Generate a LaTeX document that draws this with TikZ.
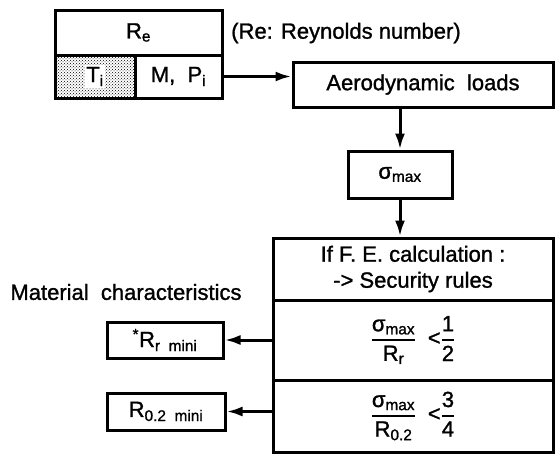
\documentclass[tikz,border=0pt]{standalone}
\usepackage{amsmath}
\usepackage{fontspec}
\setmainfont{Liberation Sans}[FakeBold=1.2]
\usetikzlibrary{arrows.meta,patterns}
\newcommand{\sig}{σ\textsubscript{max}}
\newcommand{\tfr}[2]{\genfrac{}{}{1.6pt}{0}{\text{#1}}{\text{#2}}}
\begin{document}
\begin{tikzpicture}[x=1pt,y=-1pt,
  every node/.style={font=\fontsize{22}{26}\selectfont},
  box/.style={draw,line width=3pt,rectangle,inner sep=0pt,anchor=center},
  conn/.style={line width=3pt,-{Latex[length=16pt,width=10pt]}},
  lbl/.style={inner sep=0pt}]
\useasboundingbox (0,0) rectangle (556,455);
% Re block
\node[box,minimum width=167pt,minimum height=45pt] (re) at (138.5,32.5) {R\textsubscript{e}};
\node[box,minimum width=80pt,minimum height=43pt,pattern=crosshatch dots,pattern color=black] (ti) at (95,76.5) {};
\node[lbl,fill=white,inner sep=1.5pt] (tilbl) at (ti.center) {T\textsubscript{i}};
\node[box,minimum width=87pt,minimum height=43pt] (mp) at (178.5,76.5) {M,\ \ P\textsubscript{i}};
\node[lbl] (reyn) at (346,33) {(Re: Reynolds number)};
% Aerodynamic loads
\node[box,minimum width=260pt,minimum height=45pt] (aero) at (423,84.5) {Aerodynamic\ \ loads};
% sigma max
\node[box,minimum width=104pt,minimum height=47pt] (sig) at (400,174.5) {\sig};
% big box
\node[box,minimum width=280pt,minimum height=62pt,align=center] (fe) at (413,269) {If F. E. calculation :\\-> Security rules};
\node[box,minimum width=280pt,minimum height=80pt] (r1) at (413,340) {$\tfr{\sig}{R\textsubscript{r}}\;\;\text{<}\tfr{1}{2}$};
\node[box,minimum width=280pt,minimum height=72pt] (r2) at (413,416) {$\tfr{\sig}{R\textsubscript{0.2}}\;\;\text{<}\tfr{3}{4}$};
% material
\node[lbl] (mat) at (126,292) {Material\ \ characteristics};
\node[box,minimum width=116pt,minimum height=36pt] (rr) at (165,340) {\textsuperscript{*}R\textsubscript{r\ \ mini}};
\node[box,minimum width=118pt,minimum height=37pt] (r02) at (166,411.5) {R\textsubscript{0.2\ \ mini}};
% connectors
\draw[conn] (mp.east) -- (mp.east -| aero.west);
\draw[conn] (aero.south -| sig.north) -- (sig.north);
\draw[conn] (sig.south) -- (sig.south |- fe.north);
\draw[conn] (r1.west |- rr.east) -- (rr.east);
\draw[conn] (r2.west |- r02.east) -- (r02.east);
\end{tikzpicture}
\end{document}
